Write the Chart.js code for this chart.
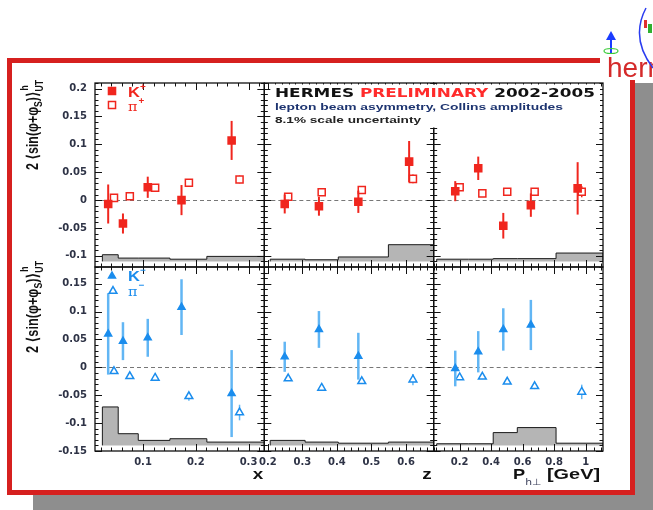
<!DOCTYPE html>
<html>
<head>
<meta charset="utf-8">
<script src="https://cdn.jsdelivr.net/npm/chart.js@4.4.0/dist/chart.umd.min.js"></script>
<style>
  html, body { margin: 0; padding: 0; background: #fff; }
</style>
</head>
<body>
<canvas id="c" width="653" height="510"></canvas>
<script>
// ===== Data =====
// kinematic bin centres, kaons and pions are drawn slightly offset
const xK  = [0.034, 0.062, 0.109, 0.173, 0.268];
const xPi = [0.045, 0.075, 0.123, 0.187, 0.283];
const zK  = [0.249, 0.348, 0.462, 0.609];
const zPi = [0.259, 0.356, 0.472, 0.620];
const pK  = [0.172, 0.318, 0.477, 0.652, 0.949];
const pPi = [0.200, 0.344, 0.502, 0.676, 0.975];

// top row : K+ and pi+
const kPlusX     = [-0.007, -0.042, 0.023, 0.000, 0.107];
const kPlusXErr  = [0.035, 0.018, 0.019, 0.027, 0.035];
const piPlusX    = [0.004, 0.007, 0.022, 0.031, 0.037];
const piPlusXErr = [0.004, 0.004, 0.004, 0.005, 0.007];
const kPlusZ     = [-0.007, -0.011, -0.003, 0.069];
const kPlusZErr  = [0.017, 0.017, 0.020, 0.037];
const piPlusZ    = [0.006, 0.014, 0.018, 0.038];
const piPlusZErr = [0.004, 0.004, 0.005, 0.008];
const kPlusP     = [0.016, 0.057, -0.046, -0.009, 0.021];
const kPlusPErr  = [0.018, 0.021, 0.023, 0.021, 0.047];
const piPlusP    = [0.023, 0.012, 0.015, 0.015, 0.015];
const piPlusPErr = [0.004, 0.004, 0.004, 0.005, 0.010];

// bottom row : K- and pi-
const kMinusX     = [0.060, 0.047, 0.053, 0.108, -0.047];
const kMinusXErr  = [0.073, 0.034, 0.034, 0.050, 0.078];
const piMinusX    = [-0.007, -0.016, -0.019, -0.052, -0.081];
const piMinusXErr = [0.005, 0.005, 0.005, 0.008, 0.014];
const kMinusZ     = [0.019, 0.068, 0.020];
const kMinusZErr  = [0.027, 0.033, 0.042];
const piMinusZ    = [-0.020, -0.037, -0.025, -0.022];
const piMinusZErr = [0.004, 0.004, 0.005, 0.010];
const kMinusP     = [-0.002, 0.028, 0.068, 0.076];
const kMinusPErr  = [0.032, 0.037, 0.038, 0.045];
const piMinusP    = [-0.018, -0.017, -0.026, -0.034, -0.044];
const piMinusPErr = [0.004, 0.004, 0.004, 0.005, 0.013];

// systematic bands (grey histograms)
const xEdges = [0.023, 0.053, 0.091, 0.151, 0.221, 0.330];
const zEdges = [0.207, 0.308, 0.404, 0.549, 0.680];
const pEdges = [0.054, 0.255, 0.413, 0.566, 0.812, 1.110];
const sysBasePos = -0.110;
const sysBaseNeg = -0.140;
const sysPosX = [-0.098, -0.104, -0.104, -0.106, -0.101];
const sysPosZ = [-0.106, -0.107, -0.102, -0.080];
const sysPosP = [-0.106, -0.106, -0.105, -0.105, -0.095];
const sysNegX = [-0.071, -0.119, -0.131, -0.128, -0.134];
const sysNegZ = [-0.131, -0.134, -0.136, -0.134];
const sysNegP = [-0.137, -0.137, -0.117, -0.108, -0.136];

// axes
const xRange = [0.009, 0.330], zRange = [0.19, 0.68], pRange = [0.035, 1.11];
const yTopRange = [-0.12, 0.21], yBotRange = [-0.15, 0.18];
const xTicks = [0.1, 0.2, 0.3];
const zTicks = [0.2, 0.3, 0.4, 0.5, 0.6];
const pTicks = [0.2, 0.4, 0.6, 0.8, 1];
const yTopTicks = [-0.1, -0.05, 0, 0.05, 0.1, 0.15, 0.2];
const yBotTicks = [-0.15, -0.1, -0.05, 0, 0.05, 0.1, 0.15];

// ===== Styles =====
const RED = '#f0261e';
const BLUE = '#1b8ded';
const BLUE_ERR = '#62b6f4';
const TICK_COLOR = '#2e3346';
const tickFont = { family: "'DejaVu Sans', 'Liberation Sans', sans-serif", size: 10, weight: 'bold' };

function fmt(v) { return String(Math.round(v * 1000) / 1000); }

function marks(xs, ys, errs, xAxisID, yAxisID, style) {
    return Object.assign({
        type: 'scatter',
        data: ys.map((y, i) => ({ x: xs[i], y: y })),
        errs: errs, xAxisID: xAxisID, yAxisID: yAxisID,
        borderWidth: 1.5
    }, style);
}
const kPlusStyle   = { pointStyle: 'rect', pointRadius: 5, backgroundColor: RED, borderColor: RED, errColor: RED, errWidth: 2 };
const piPlusStyle  = { pointStyle: 'rect', pointRadius: 5, backgroundColor: '#fff', borderColor: RED, errColor: RED, errWidth: 1.5 };
const kMinusStyle  = { pointStyle: 'triangle', pointRadius: 4, backgroundColor: BLUE, borderColor: BLUE, errColor: BLUE_ERR, errWidth: 2.5 };
const piMinusStyle = { pointStyle: 'triangle', pointRadius: 4.5, backgroundColor: '#fff', borderColor: BLUE, errColor: BLUE_ERR, errWidth: 1.5 };

function band(edges, tops, base, xAxisID, yAxisID) {
    const pts = [{ x: edges[0], y: base }];
    tops.forEach((t, i) => pts.push({ x: edges[i], y: t }));
    pts.push({ x: edges[edges.length - 1], y: base });
    return {
        type: 'line', data: pts, xAxisID: xAxisID, yAxisID: yAxisID,
        stepped: true, pointRadius: 0, borderWidth: 1, borderColor: '#1a1a1a',
        backgroundColor: '#b5b5b5', fill: { value: base }
    };
}

function yScale(range, ticks, weight) {
    return {
        type: 'linear', position: 'left', stack: 'rows', stackWeight: 1, weight: weight,
        min: range[0], max: range[1],
        grid: { display: false, drawTicks: false }, border: { display: false },
        ticks: { padding: 8, font: tickFont, color: TICK_COLOR, callback: v => fmt(v) },
        afterBuildTicks: s => { s.ticks = ticks.map(v => ({ value: v })); },
        afterFit: s => { s.width = 95; }
    };
}
function xScale(range, ticks) {
    return {
        type: 'linear', position: 'bottom', stack: 'cols', stackWeight: 1,
        min: range[0], max: range[1],
        grid: { display: false, drawTicks: false }, border: { display: false },
        ticks: { padding: 5, font: tickFont, color: TICK_COLOR, autoSkip: false, maxRotation: 0, callback: v => fmt(v) },
        afterBuildTicks: s => { s.ticks = ticks.map(v => ({ value: v })); },
        afterFit: s => { s.height = 30; }
    };
}

// ===== Error bars =====
const errorBars = {
    id: 'errorBars',
    beforeDatasetDraw(chart, args) {
        const ds = chart.data.datasets[args.index];
        if (!ds.errs) return;
        const ys = chart.scales[ds.yAxisID];
        const ctx = chart.ctx;
        ctx.save();
        ctx.strokeStyle = ds.errColor;
        ctx.lineWidth = ds.errWidth;
        args.meta.data.forEach((pt, i) => {
            const v = ds.data[i].y, e = ds.errs[i];
            ctx.beginPath();
            ctx.moveTo(pt.x, ys.getPixelForValue(v - e));
            ctx.lineTo(pt.x, ys.getPixelForValue(v + e));
            ctx.stroke();
        });
        ctx.restore();
    }
};

// ===== Frames, ticks, texts =====
const cols = [
    { id: 'x1', major: xTicks, minor: 0.02 },
    { id: 'x2', major: zTicks, minor: 0.02 },
    { id: 'x3', major: pTicks, minor: 0.05 }
];
const rows = [
    { id: 'yTop', major: yTopTicks, minor: 0.01 },
    { id: 'yBot', major: yBotTicks, minor: 0.01 }
];

function steps(min, max, step) {
    const out = [];
    for (let k = Math.ceil(min / step - 1e-6); k <= Math.floor(max / step + 1e-6); k++) out.push(k * step);
    return out;
}

function txt(ctx, s, x, y, font, color, sx) {
    ctx.save();
    ctx.font = font; ctx.fillStyle = color; ctx.textAlign = 'left'; ctx.textBaseline = 'alphabetic';
    const w = ctx.measureText(s).width * sx;
    ctx.translate(x, y); ctx.scale(sx, 1); ctx.fillText(s, 0, 0);
    ctx.restore();
    return w;
}
function measure(ctx, s, font) { ctx.font = font; return ctx.measureText(s).width; }

function yTitle(ctx, cx, cy, len) {
    const big = "bold 13px 'Liberation Sans', 'DejaVu Sans', sans-serif";
    const small = "bold 9px 'Liberation Sans', 'DejaVu Sans', sans-serif";
    const a = '2 \u27e8sin(\u03c6+\u03c6', s = 'S', b = ')\u27e9';
    const w = measure(ctx, a, big) + measure(ctx, s, small) + measure(ctx, b, big) + measure(ctx, 'UT', small);
    const k = len / w;
    ctx.save();
    ctx.translate(cx, cy); ctx.rotate(-Math.PI / 2);
    ctx.scale(k, 1.25);
    let x = -w / 2;
    x += txt(ctx, a, x, 4, big, '#111', 1);
    x += txt(ctx, s, x, 7, small, '#111', 1);
    x += txt(ctx, b, x, 4, big, '#111', 1);
    txt(ctx, 'h', x + 1, -4, small, '#111', 1);
    txt(ctx, 'UT', x, 8, small, '#111', 1);
    ctx.restore();
}

function marker(ctx, style, r, x, y, fill, stroke) {
    ctx.save();
    ctx.fillStyle = fill; ctx.strokeStyle = stroke; ctx.lineWidth = 1.5;
    Chart.helpers.drawPoint(ctx, { pointStyle: style, radius: r, borderWidth: 1.5, rotation: 0 }, x, y);
    ctx.restore();
}

const panels = {
    id: 'panels',
    beforeDraw(chart) {
        const ctx = chart.ctx;
        ctx.save();
        ctx.fillStyle = '#fff'; ctx.fillRect(0, 0, chart.width, chart.height);
        // drop shadow + red frame
        ctx.fillStyle = '#8e8e8e'; ctx.fillRect(33, 83, 620, 427);
        ctx.fillStyle = '#fff'; ctx.fillRect(7, 58, 628, 437);
        ctx.strokeStyle = '#d6201f'; ctx.lineWidth = 5; ctx.strokeRect(9.5, 60.5, 623, 432);
        // logo corner
        ctx.fillStyle = '#fff'; ctx.fillRect(600, 0, 53, 80);
        ctx.fillStyle = '#d42a2a'; ctx.font = "28px 'Liberation Sans', sans-serif";
        ctx.fillText('hermes', 607, 77);
        ctx.strokeStyle = '#1a3cff'; ctx.lineWidth = 2;
        ctx.beginPath(); ctx.moveTo(611, 53); ctx.lineTo(611, 38); ctx.stroke();
        ctx.fillStyle = '#1a3cff';
        ctx.beginPath(); ctx.moveTo(611, 31); ctx.lineTo(606, 40); ctx.lineTo(616, 40); ctx.closePath(); ctx.fill();
        ctx.strokeStyle = '#3ccc3c'; ctx.lineWidth = 1.2;
        ctx.beginPath(); ctx.ellipse(611, 51, 7, 2.5, 0, 0, Math.PI * 2); ctx.stroke();
        ctx.strokeStyle = '#2a3cf0'; ctx.lineWidth = 1.5;
        ctx.beginPath(); ctx.moveTo(646, 8); ctx.quadraticCurveTo(630, 38, 653, 68); ctx.stroke();
        ctx.fillStyle = '#30b030'; ctx.fillRect(648, 24, 4, 9);
        ctx.fillStyle = '#e03030'; ctx.fillRect(644, 20, 3, 8);
        ctx.restore();
    },
    beforeDatasetsDraw(chart) {
        const ctx = chart.ctx;
        ctx.save();
        ctx.strokeStyle = '#777'; ctx.lineWidth = 1; ctx.setLineDash([4, 3]);
        rows.forEach(r => cols.forEach(c => {
            const xs = chart.scales[c.id], ys = chart.scales[r.id];
            const y0 = Math.round(ys.getPixelForValue(0)) + 0.5;
            ctx.beginPath(); ctx.moveTo(xs.left, y0); ctx.lineTo(xs.right, y0); ctx.stroke();
        }));
        ctx.restore();
    },
    afterDraw(chart) {
        const ctx = chart.ctx;
        ctx.save();
        ctx.strokeStyle = '#111';
        rows.forEach(r => cols.forEach(c => {
            const xs = chart.scales[c.id], ys = chart.scales[r.id];
            const L = xs.left, R = xs.right, T = ys.top, B = ys.bottom;
            ctx.lineWidth = 1;
            ctx.beginPath();
            steps(ys.min, ys.max, r.minor).forEach(v => {
                const y = Math.round(ys.getPixelForValue(v)) + 0.5;
                const len = r.major.some(m => Math.abs(m - v) < 1e-6) ? 7 : 3.5;
                ctx.moveTo(L, y); ctx.lineTo(L + len, y);
                ctx.moveTo(R, y); ctx.lineTo(R - len, y);
            });
            steps(xs.min, xs.max, c.minor).forEach(v => {
                const x = Math.round(xs.getPixelForValue(v)) + 0.5;
                const len = c.major.some(m => Math.abs(m - v) < 1e-6) ? 7 : 3.5;
                ctx.moveTo(x, B); ctx.lineTo(x, B - len);
                ctx.moveTo(x, T); ctx.lineTo(x, T + len);
            });
            ctx.stroke();
            ctx.lineWidth = 1.3;
            ctx.strokeRect(L, T, R - L, B - T);
        }));
        ctx.restore();

        // header text box
        const x2 = chart.scales.x2, x3 = chart.scales.x3, yTop = chart.scales.yTop;
        ctx.save();
        ctx.fillStyle = '#fff';
        ctx.fillRect(x2.left + 6, yTop.top + 1.5, x3.right - x2.left - 9, 43);
        const f1 = "bold 12.5px 'DejaVu Sans', sans-serif";
        const full = measure(ctx, 'HERMES PRELIMINARY 2002-2005', f1);
        const k1 = 320 / full;
        let x = 275;
        x += txt(ctx, 'HERMES ', x, 97, f1, '#111', k1);
        x += txt(ctx, 'PRELIMINARY', x, 97, f1, '#ff2b2b', k1);
        txt(ctx, ' 2002-2005', x, 97, f1, '#111', k1);
        const f2 = "bold 9.5px 'Liberation Sans', sans-serif";
        const l2 = 'lepton beam asymmetry, Collins amplitudes';
        txt(ctx, l2, 275, 110, f2, '#1d3470', 288 / measure(ctx, l2, f2));
        const l3 = '8.1% scale uncertainty';
        txt(ctx, l3, 275, 123, f2, '#222', 146 / measure(ctx, l3, f2));

        // legends
        const x1 = chart.scales.x1, yBot = chart.scales.yBot;
        const L = x1.left, T1 = yTop.top, T2 = yBot.top;
        marker(ctx, 'rect', 5, L + 17, T1 + 8, RED, RED);
        marker(ctx, 'rect', 5, L + 17, T1 + 22, '#fff', RED);
        const fK = "bold 15px 'Liberation Sans', sans-serif";
        const fPi = "13px 'DejaVu Serif', serif";
        const fSup = "bold 9px 'Liberation Sans', sans-serif";
        let w = txt(ctx, 'K', L + 33, T1 + 14, fK, RED, 1.1);
        txt(ctx, '+', L + 33 + w, T1 + 7, fSup, RED, 1.1);
        w = txt(ctx, '\u03c0', L + 33, T1 + 28, fPi, RED, 1.1);
        txt(ctx, '+', L + 34 + w, T1 + 21, fSup, RED, 1.1);
        marker(ctx, 'triangle', 4, L + 17, T2 + 9, BLUE, BLUE);
        marker(ctx, 'triangle', 4.5, L + 18, T2 + 24, '#fff', BLUE);
        w = txt(ctx, 'K', L + 33, T2 + 14, fK, BLUE, 1.1);
        txt(ctx, '\u2212', L + 33 + w, T2 + 6, fSup, BLUE, 1.1);
        w = txt(ctx, '\u03c0', L + 33, T2 + 29, fPi, BLUE, 1.1);
        txt(ctx, '\u2212', L + 34 + w, T2 + 21, fSup, BLUE, 1.1);

        // axis titles
        const fAx = "bold 14px 'Liberation Sans', sans-serif";
        w = measure(ctx, 'x', fAx) * 1.35;
        txt(ctx, 'x', x1.right - w - 1, 479, fAx, '#111', 1.35);
        w = measure(ctx, 'z', fAx) * 1.35;
        txt(ctx, 'z', x2.right - w - 2, 479, fAx, '#111', 1.35);
        w = txt(ctx, 'P', 513, 479, fAx, '#111', 1.3);
        txt(ctx, 'h\u22a5', 513 + w, 485, "9px 'DejaVu Sans', sans-serif", '#3a3f5a', 1.2);
        const ge = '[GeV]';
        txt(ctx, ge, 547, 479, fAx, '#111', 53 / measure(ctx, ge, fAx));

        yTitle(ctx, 33, 125, 90);
        yTitle(ctx, 33, 307, 92);
        ctx.restore();
    }
};

// ===== Chart =====
const datasets = [
    marks(xK, kPlusX, kPlusXErr, 'x1', 'yTop', kPlusStyle),
    marks(xPi, piPlusX, piPlusXErr, 'x1', 'yTop', piPlusStyle),
    marks(zK, kPlusZ, kPlusZErr, 'x2', 'yTop', kPlusStyle),
    marks(zPi, piPlusZ, piPlusZErr, 'x2', 'yTop', piPlusStyle),
    marks(pK, kPlusP, kPlusPErr, 'x3', 'yTop', kPlusStyle),
    marks(pPi, piPlusP, piPlusPErr, 'x3', 'yTop', piPlusStyle),
    marks(xK, kMinusX, kMinusXErr, 'x1', 'yBot', kMinusStyle),
    marks(xPi, piMinusX, piMinusXErr, 'x1', 'yBot', piMinusStyle),
    marks(zK, kMinusZ, kMinusZErr, 'x2', 'yBot', kMinusStyle),
    marks(zPi, piMinusZ, piMinusZErr, 'x2', 'yBot', piMinusStyle),
    marks(pK, kMinusP, kMinusPErr, 'x3', 'yBot', kMinusStyle),
    marks(pPi, piMinusP, piMinusPErr, 'x3', 'yBot', piMinusStyle),
    band(xEdges, sysPosX, sysBasePos, 'x1', 'yTop'),
    band(zEdges, sysPosZ, sysBasePos, 'x2', 'yTop'),
    band(pEdges, sysPosP, sysBasePos, 'x3', 'yTop'),
    band(xEdges, sysNegX, sysBaseNeg, 'x1', 'yBot'),
    band(zEdges, sysNegZ, sysBaseNeg, 'x2', 'yBot'),
    band(pEdges, sysNegP, sysBaseNeg, 'x3', 'yBot')
];

new Chart(document.getElementById('c'), {
    type: 'scatter',
    data: { datasets: datasets },
    options: {
        responsive: false,
        animation: false,
        events: [],
        layout: { padding: { left: 0, right: 50, top: 83, bottom: 29 } },
        plugins: { legend: { display: false }, tooltip: { enabled: false } },
        scales: {
            // rows are stacked on the left; the weights put the K+ row on top
            yTop: yScale(yTopRange, yTopTicks, 1),
            yBot: yScale(yBotRange, yBotTicks, 0),
            x1: xScale(xRange, xTicks),
            x2: xScale(zRange, zTicks),
            x3: xScale(pRange, pTicks)
        }
    },
    plugins: [errorBars, panels]
});
</script>
</body>
</html>
